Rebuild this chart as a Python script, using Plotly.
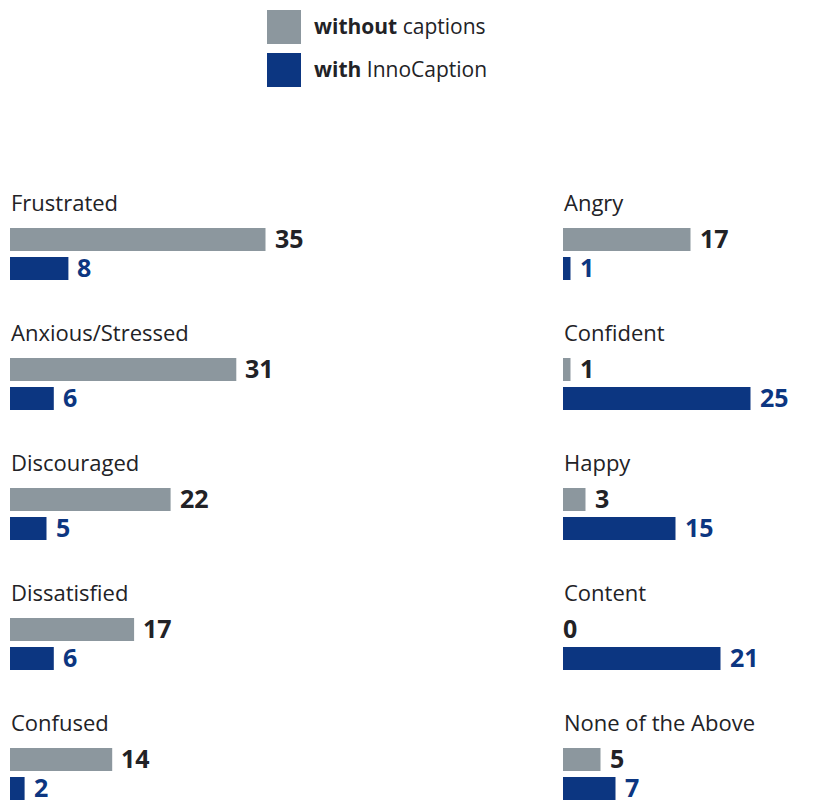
import plotly.graph_objects as go

# Emotions reported, split into two columns
left_categories = ["Frustrated", "Anxious/Stressed", "Discouraged", "Dissatisfied", "Confused"]
left_without = [35, 31, 22, 17, 14]
left_with = [8, 6, 5, 6, 2]

right_categories = ["Angry", "Confident", "Happy", "Content", "None of the Above"]
right_without = [17, 1, 3, 0, 5]
right_with = [1, 25, 15, 21, 7]

series_names = ["without captions", "with InnoCaption"]
series_labels = ["<b>without</b> captions", "<b>with</b> InnoCaption"]

GRAY = "#8c979e"
NAVY = "#0c3681"
TEXT = "#222226"
FONT = "Open Sans"

W, H = 828, 800

fig = go.Figure()

columns = [
    ("x", "y", left_categories, left_without, left_with),
    ("x2", "y2", right_categories, right_without, right_with),
]

for xa, ya, cats, v_without, v_with in columns:
    fig.add_trace(go.Bar(
        y=cats, x=v_without, orientation="h", name=series_names[0],
        marker=dict(color=GRAY, line=dict(width=0)), xaxis=xa, yaxis=ya,
        showlegend=False, hoverinfo="x+y",
    ))
    fig.add_trace(go.Bar(
        y=cats, x=v_with, orientation="h", name=series_names[1],
        marker=dict(color=NAVY, line=dict(width=0)), xaxis=xa, yaxis=ya,
        showlegend=False, hoverinfo="x+y",
    ))

annotations = []
for xa, ya, cats, v_without, v_with in columns:
    for cat, a, b in zip(cats, v_without, v_with):
        # category title above each pair of bars
        annotations.append(dict(
            x=0, y=cat, xref=xa, yref=ya, text=cat, showarrow=False,
            xanchor="left", yanchor="middle", yshift=52, xshift=-1,
            font=dict(family=FONT, size=22, color=TEXT),
        ))
        # value labels at the end of each bar
        for val, color, dy in ((a, TEXT, 16), (b, NAVY, -13)):
            annotations.append(dict(
                x=val, y=cat, xref=xa, yref=ya, text=f"<b>{val}</b>",
                showarrow=False, xanchor="left", yanchor="middle",
                yshift=dy, xshift=7 if val > 0 else -2,
                font=dict(family=FONT, size=25, color=color),
            ))

# legend: colour swatches with labels
shapes = []
for i, (label, color) in enumerate(zip(series_labels, [GRAY, NAVY])):
    top = 10 + i * 43
    shapes.append(dict(
        type="rect", xref="paper", yref="paper",
        x0=267 / W, x1=301 / W, y0=1 - (top + 34) / H, y1=1 - top / H,
        fillcolor=color, line=dict(width=0),
    ))
    annotations.append(dict(
        x=312 / W, y=1 - (top + 16) / H, xref="paper", yref="paper",
        text=label, showarrow=False, xanchor="left", yanchor="middle",
        font=dict(family=FONT, size=21, color=TEXT),
    ))

px_per_unit_left = 7.3
px_per_unit_right = 7.5
left_dom = [10 / W, 420 / W]
right_dom = [563 / W, 1.0]
left_range = [0, (left_dom[1] - left_dom[0]) * W / px_per_unit_left]
right_range = [0, (right_dom[1] - right_dom[0]) * W / px_per_unit_right]

y_dom = [0, 650 / H]
y_range = [4.2, -0.8]

axis_common = dict(showgrid=False, zeroline=False, showticklabels=False,
                   showline=False, ticks="", fixedrange=True)

fig.update_layout(
    width=W, height=H,
    margin=dict(l=0, r=0, t=0, b=0),
    paper_bgcolor="white", plot_bgcolor="white",
    barmode="group", bargap=0.554, bargroupgap=0.207,
    font=dict(family=FONT, color=TEXT),
    xaxis=dict(domain=left_dom, range=left_range, anchor="y", **axis_common),
    yaxis=dict(domain=y_dom, range=y_range, anchor="x", type="category",
               **axis_common),
    xaxis2=dict(domain=right_dom, range=right_range, anchor="y2", **axis_common),
    yaxis2=dict(domain=y_dom, range=y_range, anchor="x2", type="category",
                **axis_common),
    shapes=shapes,
    annotations=annotations,
    showlegend=False,
)

fig.write_html("out.html")
